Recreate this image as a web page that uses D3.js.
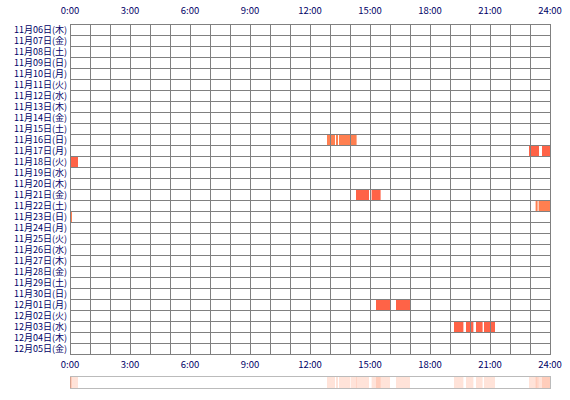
<!DOCTYPE html><html><head><meta charset="utf-8"><script src="https://cdn.jsdelivr.net/npm/d3@7"></script>
<style>body{margin:0;background:#fff}</style></head><body><svg id="c" width="570" height="400"></svg>
<script>
const days=["11月06日(木)","11月07日(金)","11月08日(土)","11月09日(日)","11月10日(月)","11月11日(火)","11月12日(水)","11月13日(木)","11月14日(金)","11月15日(土)","11月16日(日)","11月17日(月)","11月18日(火)","11月19日(水)","11月20日(木)","11月21日(金)","11月22日(土)","11月23日(日)","11月24日(月)","11月25日(火)","11月26日(水)","11月27日(木)","11月28日(金)","11月29日(土)","11月30日(日)","12月01日(月)","12月02日(火)","12月03日(水)","12月04日(木)","12月05日(金)"];
const tickHours=[0,3,6,9,12,15,18,21,24];
// [dayIndex, startHour, endHour, colorType]
const segments=[
[10,12.85,13.25,1],[10,13.3,13.4,1],[10,13.45,14.0,1],[10,14.03,14.33,1],
[11,22.95,23.45,0],[11,23.6,24,0],
[12,0,0.4,0],
[15,14.3,14.95,0],[15,15.08,15.53,0],
[16,23.28,23.38,1],[16,23.43,24,1],
[17,0,0.1,1],
[25,15.3,16.0,0],[25,16.3,17.0,0],
[27,19.2,19.67,0],[27,19.8,20.17,0],[27,20.3,20.63,0],[27,20.7,21.25,0]];
const colors=["#ff6347","#ff7f50"];
const svg=d3.select("#c");
const x=d3.scaleLinear().domain([0,24]).range([70,550]);
const y=d3.scaleBand().domain(days).range([24,354]);
const font="'Noto Sans CJK JP', sans-serif";
svg.append("rect").attr("x",70).attr("y",24).attr("width",480).attr("height",330).attr("fill","#fff");
svg.selectAll(".seg").data(segments).enter().append("rect")
 .attr("x",d=>x(d[1])).attr("width",d=>x(d[2])-x(d[1])).attr("y",d=>y(days[d[0]])+1).attr("height",y.bandwidth()-1)
 .attr("fill",d=>colors[d[3]]);
const g=svg.append("g").attr("stroke","#808080").attr("stroke-width",1).attr("shape-rendering","crispEdges");
g.selectAll(".v").data(d3.range(25)).enter().append("line").attr("x1",d=>x(d)+.5).attr("x2",d=>x(d)+.5).attr("y1",24).attr("y2",354.5);
g.selectAll(".h").data(d3.range(31)).enter().append("line").attr("y1",d=>24+d*11+.5).attr("y2",d=>24+d*11+.5).attr("x1",70).attr("x2",550.5);
svg.selectAll(".dl").data(days).enter().append("text").attr("x",67).attr("y",d=>y(d)+y.bandwidth()/2+3.5)
 .attr("text-anchor","end").attr("font-size",9).attr("font-family",font).attr("fill","#000066").text(d=>d);
[14,368].forEach(yy=>{
 svg.selectAll(null).data(tickHours).enter().append("text").attr("x",d=>x(d)).attr("y",yy).attr("text-anchor","middle")
 .attr("font-size",9.5).attr("font-family",font).attr("fill","#000066").text(d=>d+":00");
});
svg.append("rect").attr("x",70.5).attr("y",376.5).attr("width",480).attr("height",12).attr("fill","#fff").attr("stroke","#bbb");
svg.selectAll(".s").data(segments).enter().append("rect").attr("x",d=>x(d[1])).attr("width",d=>x(d[2])-x(d[1]))
 .attr("y",377).attr("height",11).attr("fill","#ff7f50").attr("opacity",0.22);
</script></body></html>
